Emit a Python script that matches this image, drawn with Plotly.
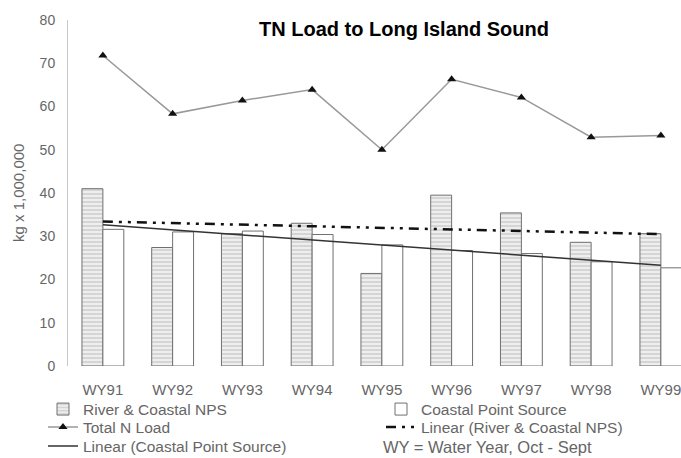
import numpy as np
import plotly.graph_objects as go

years = ["WY91", "WY92", "WY93", "WY94", "WY95", "WY96", "WY97", "WY98", "WY99"]
river_nps = [41.0, 27.4, 30.6, 33.0, 21.4, 39.5, 35.4, 28.6, 30.6]
point_src = [31.6, 31.0, 31.2, 30.4, 28.0, 26.7, 26.0, 24.1, 22.7]
total_n = [71.8, 58.3, 61.4, 63.9, 50.0, 66.3, 62.1, 52.9, 53.3]
y_ticks = [0, 10, 20, 30, 40, 50, 60, 70, 80]

x = np.arange(len(years))
fit_nps = np.polyval(np.polyfit(x, river_nps, 1), x)
fit_ps = np.polyval(np.polyfit(x, point_src, 1), x)

FONT = "Liberation Sans, Arial, sans-serif"
GRAY = "#666666"
W, H = 681, 458
L, T = 68, 19.5
BOTTOM = 366.5
plot_w = W - L
plot_h = BOTTOM - T
spacing = 69.75

fig = go.Figure()
fig.add_trace(go.Bar(
    x=x, y=river_nps, name="River & Coastal NPS", legend="legend",
    marker=dict(color="#e6e6e6", line=dict(color="#707070", width=1),
                pattern=dict(shape="-", size=4, solidity=0.25, fgcolor="#8a8a8a", bgcolor="#eeeeee")),
))
fig.add_trace(go.Bar(
    x=x, y=point_src, name="Coastal Point Source", legend="legend2",
    marker=dict(color="#ffffff", line=dict(color="#707070", width=1)),
))
fig.add_trace(go.Scatter(
    x=x, y=total_n, name="Total N Load", mode="lines+markers", legend="legend3",
    line=dict(color="#999999", width=1.5),
    marker=dict(symbol="triangle-up", size=8, color="#111111"),
))
fig.add_trace(go.Scatter(
    x=x, y=fit_nps, name="Linear (River & Coastal NPS)", mode="lines", legend="legend4",
    line=dict(color="#111111", width=2.5, dash="10px,6px,3px,6px,3px,6px"),
))
fig.add_trace(go.Scatter(
    x=x, y=fit_ps, name="Linear (Coastal Point Source)", mode="lines", legend="legend5",
    line=dict(color="#333333", width=1.5),
))


def leg(px, py):
    return dict(x=px / W, xref="container", xanchor="left",
                y=1 - py / H, yref="container", yanchor="middle",
                font=dict(size=15.5, color=GRAY, family=FONT),
                bgcolor="rgba(0,0,0,0)", borderwidth=0)


fig.update_layout(
    width=W, height=H,
    margin=dict(l=L, r=0, t=T, b=H - BOTTOM, autoexpand=False),
    paper_bgcolor="white", plot_bgcolor="white",
    barmode="group", bargap=0.4, bargroupgap=0,
    font=dict(family=FONT, color=GRAY, size=13),
    title=dict(text="<b>TN Load to Long Island Sound</b>",
               font=dict(family=FONT, size=20, color="#000000"),
               x=404 / W, xref="container", xanchor="center",
               y=1 - 28.5 / H, yref="container", yanchor="middle"),
    xaxis=dict(range=[-0.5, -0.5 + plot_w / spacing], tickvals=list(x), ticktext=years,
               showline=False, showgrid=False, zeroline=False, ticks="",
               ticklabeloverflow="allow",
               ticklabelstandoff=13, tickfont=dict(size=15, color=GRAY)),
    yaxis=dict(range=[0, 80], tickvals=y_ticks, showgrid=False, zeroline=False,
               showline=True, linecolor="#c8c8c8", linewidth=1, ticks="",
               ticklabelstandoff=9, tickfont=dict(size=14, color=GRAY)),
    showlegend=True,
    legend=leg(43, 409.5),
    legend2=leg(381, 409.5),
    legend3=leg(43, 427.5),
    legend4=leg(381, 427.5),
    legend5=leg(43, 446.5),
    annotations=[
        dict(text="kg x 1,000,000", textangle=-90, xref="paper", yref="paper",
             x=(18 - L) / plot_w, y=0.5, showarrow=False, xanchor="center", yanchor="middle",
             font=dict(size=15, color=GRAY)),
        dict(text="WY = Water Year, Oct - Sept", xref="paper", yref="paper",
             x=(381 - L) / plot_w, y=(BOTTOM - 447.5) / plot_h, showarrow=False,
             xanchor="left", yanchor="middle", font=dict(size=16.5, color=GRAY)),
    ],
)

fig.write_html("out.html", config={"displayModeBar": False},
               post_script="document.body.style.margin='0';")
